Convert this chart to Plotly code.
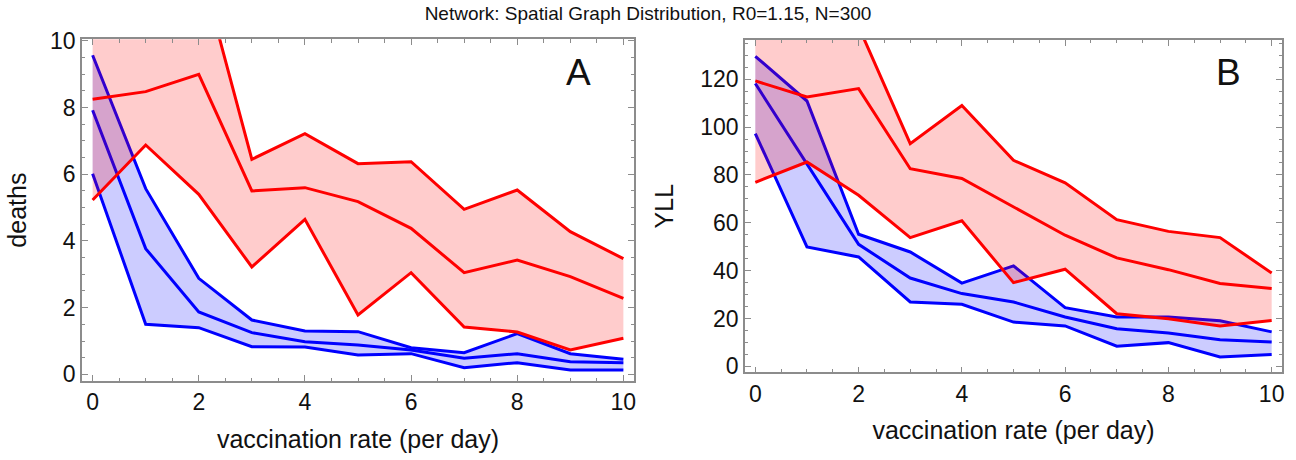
import plotly.graph_objects as go

# ---------------- data ----------------
rate = [0, 1, 2, 3, 4, 5, 6, 7, 8, 9, 10]

# Panel A: deaths
deaths_red_hi = [13.5, 13.0, 12.4, 6.45, 7.22, 6.32, 6.38, 4.95, 5.53, 4.28, 3.47]
deaths_red_med = [8.25, 8.48, 9.0, 5.5, 5.6, 5.18, 4.38, 3.05, 3.43, 2.93, 2.28]
deaths_red_lo = [5.23, 6.88, 5.4, 3.22, 4.65, 1.78, 3.05, 1.42, 1.27, 0.73, 1.08]
deaths_blue_hi = [9.57, 5.57, 2.88, 1.63, 1.3, 1.28, 0.8, 0.65, 1.22, 0.62, 0.45]
deaths_blue_med = [7.92, 3.77, 1.87, 1.25, 0.98, 0.88, 0.73, 0.48, 0.62, 0.38, 0.35]
deaths_blue_lo = [6.02, 1.5, 1.4, 0.83, 0.82, 0.58, 0.62, 0.2, 0.35, 0.13, 0.13]

# Panel B: YLL
yll_red_hi = [150, 147, 142, 93.1, 109, 86.1, 76.7, 61.3, 56.4, 53.8, 39.0]
yll_red_med = [119.3, 112.6, 116.1, 82.6, 78.5, 66.6, 54.8, 45.3, 40.4, 34.6, 32.5]
yll_red_lo = [76.9, 85.4, 71.5, 53.8, 60.8, 35.0, 40.6, 22.0, 19.9, 16.9, 19.2]
yll_blue_hi = [129.6, 110.9, 55.2, 47.8, 34.8, 42.0, 24.5, 20.6, 20.6, 19.0, 14.4]
yll_blue_med = [118.2, 84.7, 51.0, 36.9, 30.4, 26.9, 20.6, 15.7, 13.9, 11.1, 10.2]
yll_blue_lo = [97.3, 49.9, 45.7, 26.9, 25.9, 18.5, 16.9, 8.4, 9.9, 3.9, 4.9]

title_text = "Network: Spatial Graph Distribution, R0=1.15, N=300"
x_title = "vaccination rate (per day)"
panel_labels = ["A", "B"]
y_titles = ["deaths", "YLL"]

# ---------------- style ----------------
FONT = "Arial, Liberation Sans, sans-serif"
RED = "#ff0000"
BLUE = "#0000ff"
RED_FILL = "rgba(255,0,0,0.2)"
BLUE_FILL = "rgba(0,0,255,0.2)"
FRAME = "#8c8c8c"
TXT = "#111111"
LW = 3

fig = go.Figure()


def add_band(xa, ya, hi, med, lo, color, fill):
    fig.add_trace(go.Scatter(
        x=rate + rate[::-1], y=hi + lo[::-1], fill="toself", fillcolor=fill,
        mode="lines", line=dict(width=0), hoverinfo="skip", showlegend=False,
        xaxis=xa, yaxis=ya))
    for series in (hi, med, lo):
        fig.add_trace(go.Scatter(
            x=rate, y=series, mode="lines", line=dict(color=color, width=LW),
            showlegend=False, xaxis=xa, yaxis=ya))


add_band("x", "y", deaths_blue_hi, deaths_blue_med, deaths_blue_lo, BLUE, BLUE_FILL)
add_band("x", "y", deaths_red_hi, deaths_red_med, deaths_red_lo, RED, RED_FILL)
add_band("x2", "y2", yll_blue_hi, yll_blue_med, yll_blue_lo, BLUE, BLUE_FILL)
add_band("x2", "y2", yll_red_hi, yll_red_med, yll_red_lo, RED, RED_FILL)

W, H = 1296, 460


def xax(domain, anchor):
    return dict(
        domain=domain, anchor=anchor, range=[-0.2, 10.2], dtick=2, tick0=0,
        showgrid=False, zeroline=False, showline=True, linecolor=FRAME,
        linewidth=1.5, mirror="ticks", ticks="inside", ticklen=6,
        tickcolor=FRAME, tickwidth=1,
        minor=dict(dtick=0.5, ticks="inside", ticklen=3.5, tickcolor=FRAME,
                   showgrid=False),
        tickfont=dict(family=FONT, size=23, color=TXT),
        title=dict(text=x_title, font=dict(family=FONT, size=25, color=TXT),
                   standoff=16),
        automargin=False,
    )


def yax(domain, anchor, rng, dtick, minor, title, standoff):
    return dict(
        domain=domain, anchor=anchor, range=rng, dtick=dtick, tick0=0,
        showgrid=False, zeroline=False, showline=True, linecolor=FRAME,
        linewidth=1.5, mirror="ticks", ticks="inside", ticklen=6,
        tickcolor=FRAME, tickwidth=1,
        minor=dict(dtick=minor, ticks="inside", ticklen=3.5, tickcolor=FRAME,
                   showgrid=False),
        tickfont=dict(family=FONT, size=23, color=TXT),
        title=dict(text=title, font=dict(family=FONT, size=25, color=TXT),
                   standoff=standoff),
        automargin=False,
    )


fig.update_layout(
    width=W, height=H,
    margin=dict(l=0, r=0, t=0, b=0),
    paper_bgcolor="white", plot_bgcolor="white",
    xaxis=xax([82 / W, 634 / W], "y"),
    yaxis=yax([1 - 381 / H, 1 - 39.3 / H], "x", [-0.2, 10.05], 2, 0.5, y_titles[0], 16),
    xaxis2=xax([745 / W, 1282 / W], "y2"),
    yaxis2=yax([1 - 372.3 / H, 1 - 40 / H], "x2", [-2.5, 136.4], 20, 5, y_titles[1], 20),
    title=dict(text=title_text, x=0.5, xanchor="center", y=1 - 13 / H,
               yanchor="middle", font=dict(family=FONT, size=19, color=TXT)),
    annotations=[
        dict(text=panel_labels[0], xref="paper", yref="paper", x=578 / W,
             y=1 - 73 / H, xanchor="center", yanchor="middle", showarrow=False,
             font=dict(family=FONT, size=37, color=TXT)),
        dict(text=panel_labels[1], xref="paper", yref="paper", x=1228 / W,
             y=1 - 72.5 / H, xanchor="center", yanchor="middle", showarrow=False,
             font=dict(family=FONT, size=37, color=TXT)),
    ],
)

fig.write_html("out.html")
